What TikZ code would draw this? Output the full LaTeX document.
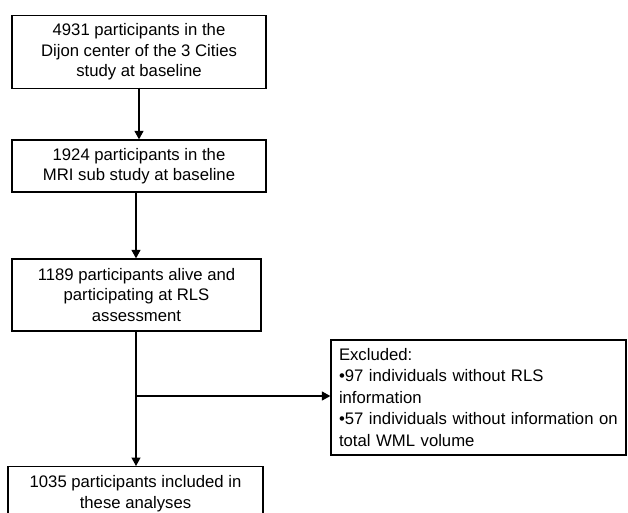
\documentclass[tikz,border=0pt]{standalone}
\usepackage{fontspec}
\setmainfont{Liberation Sans}
\usetikzlibrary{arrows.meta}
\begin{document}
\begin{tikzpicture}[x=1pt,y=-1pt,
  box/.style={draw=black, line width=1.3pt, fill=white, inner sep=0pt,
    font=\fontsize{16.7}{20.5}\selectfont, align=center},
  exbox/.style={draw=black, line width=1.3pt, fill=white, inner sep=8pt,
    font=\fontsize{16.7}{21.5}\selectfont, align=left, text width=279pt},
  arr/.style={line width=1.3pt, -{Triangle[width=9pt,length=8.5pt]}},
  ln/.style={line width=1.3pt}]
\useasboundingbox (0,0) rectangle (628,512);
\clip (0,0) rectangle (628,512);
\fill[white] (0,0) rectangle (628,512);
\node[box, minimum width=254pt, minimum height=73pt] (b1) at (139,52)
  {4931 participants in the\\Dijon center of the 3 Cities\\study at baseline};
\node[box, minimum width=254pt, minimum height=52pt] (b2) at (139,166)
  {1924 participants in the\\MRI sub study at baseline};
\node[box, minimum width=249pt, minimum height=72pt] (b3) at (136.5,295)
  {1189 participants alive and\\participating at RLS\\assessment};
\node[box, minimum width=255pt, minimum height=54pt, anchor=north] (b4) at (135.5,466)
  {1035 participants included in\\these analyses};
\node[exbox, minimum width=295pt, minimum height=115pt] (ex) at (478.5,397.5)
  {Excluded:\\•97 individuals without RLS\\information\\•57 individuals without information on\\total WML volume};
\coordinate (j) at (136,396);
\draw[arr] ([yshift=1.5pt]b1.south) -- (b2.north);
\draw[arr] ([xshift=-3pt]b2.south) -- ([xshift=-0.5pt]b3.north);
\draw[arr] ([xshift=-0.5pt]b3.south) -- (b4.north -| j);
\draw[arr] (j) -- (ex.west |- j);
\end{tikzpicture}
\end{document}
